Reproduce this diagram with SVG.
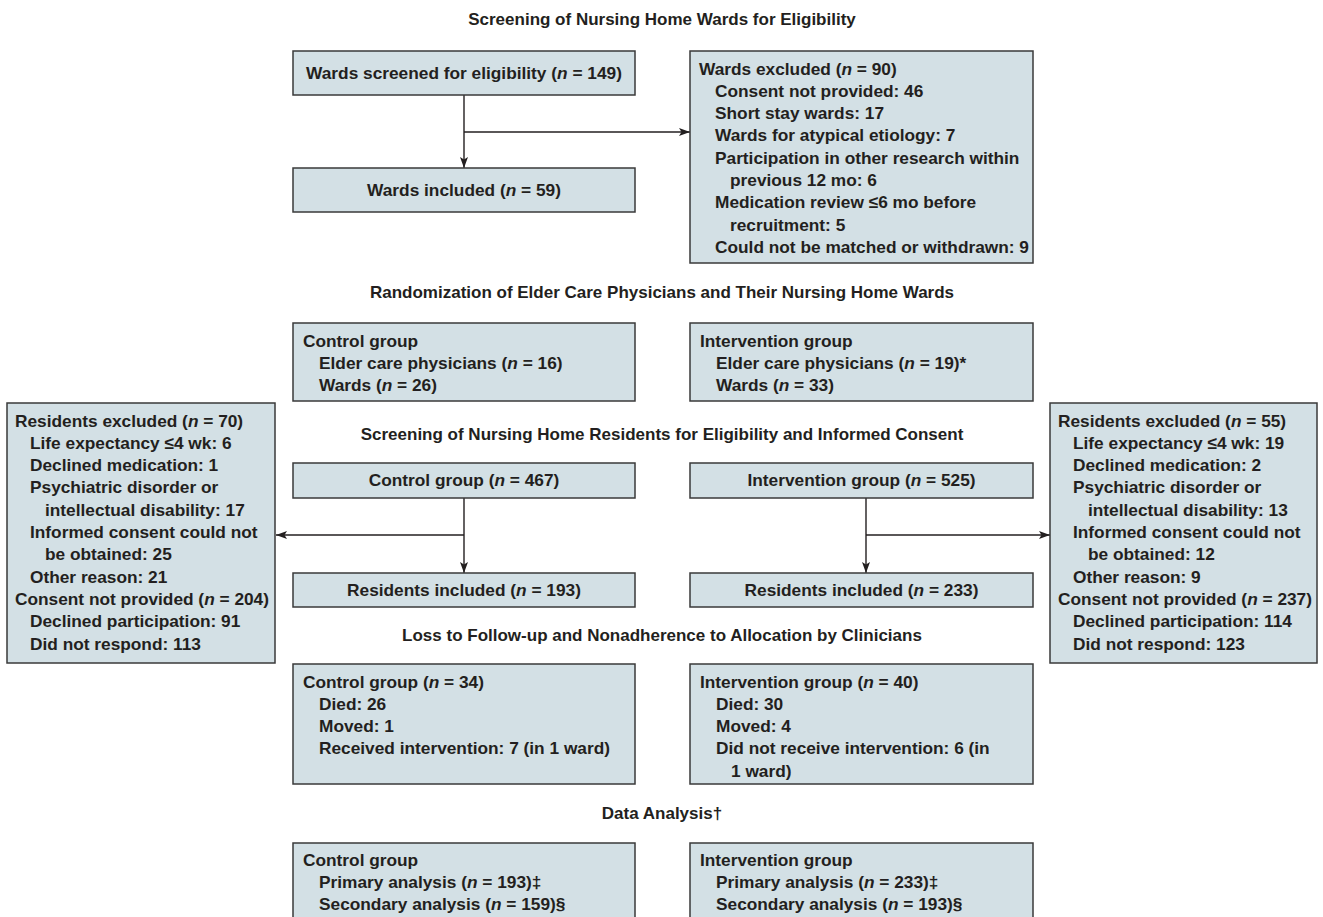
<svg xmlns="http://www.w3.org/2000/svg" width="1323" height="917" viewBox="0 0 1323 917">
<defs>
<style>
.box{fill:#d3e0e5;stroke:#3a3a3a;stroke-width:1.5}
.t{font-family:"Liberation Sans",Arial,sans-serif;font-size:17.3px;font-weight:bold;fill:#231f20}
.h{font-family:"Liberation Sans",Arial,sans-serif;font-size:17px;font-weight:bold;fill:#231f20;text-anchor:middle}
.m{text-anchor:middle}
.conn{stroke:#231f20;stroke-width:1.4;fill:none}
</style>
<marker id="ah" viewBox="0 0 11 8" refX="11" refY="4" markerWidth="11" markerHeight="8" markerUnits="userSpaceOnUse" orient="auto">
<path d="M0,0 L11,4 L0,8 L2.5,4 z" fill="#231f20"/>
</marker>
</defs>
<rect width="1323" height="917" fill="#ffffff"/>

<g id="headings" class="h">
<text x="662" y="25">Screening of Nursing Home Wards for Eligibility</text>
<text x="662" y="298">Randomization of Elder Care Physicians and Their Nursing Home Wards</text>
<text x="662" y="440">Screening of Nursing Home Residents for Eligibility and Informed Consent</text>
<text x="662" y="641">Loss to Follow-up and Nonadherence to Allocation by Clinicians</text>
<text x="662" y="819">Data Analysis†</text>
</g>

<g id="connectors">
<path class="conn" d="M464,95 V168" marker-end="url(#ah)"/>
<path class="conn" d="M464,132 H690" marker-end="url(#ah)"/>
<path class="conn" d="M464,498 V573" marker-end="url(#ah)"/>
<path class="conn" d="M464,535 H276" marker-end="url(#ah)"/>
<path class="conn" d="M866,498 V573" marker-end="url(#ah)"/>
<path class="conn" d="M866,535 H1050" marker-end="url(#ah)"/>
</g>

<g id="wards-screened">
<rect class="box" x="293" y="51" width="342" height="44"/>
<text class="t m" x="464" y="79">Wards screened for eligibility (<tspan font-style="italic">n</tspan> = 149)</text>
</g>

<g id="wards-included">
<rect class="box" x="293" y="168" width="342" height="44"/>
<text class="t m" x="464" y="196">Wards included (<tspan font-style="italic">n</tspan> = 59)</text>
</g>

<g id="wards-excluded" class="t">
<rect class="box" x="690" y="51" width="343" height="212"/>
<text x="699" y="74.5">Wards excluded (<tspan font-style="italic">n</tspan> = 90)</text>
<text x="715" y="96.8">Consent not provided: 46</text>
<text x="715" y="119.1">Short stay wards: 17</text>
<text x="715" y="141.4">Wards for atypical etiology: 7</text>
<text x="715" y="163.7">Participation in other research within</text>
<text x="730" y="186">previous 12 mo: 6</text>
<text x="715" y="208.3">Medication review ≤6 mo before</text>
<text x="730" y="230.6">recruitment: 5</text>
<text x="715" y="252.9">Could not be matched or withdrawn: 9</text>
</g>

<g id="rand-control" class="t">
<rect class="box" x="293" y="323" width="342" height="78"/>
<text x="303" y="347">Control group</text>
<text x="319" y="369">Elder care physicians (<tspan font-style="italic">n</tspan> = 16)</text>
<text x="319" y="391">Wards (<tspan font-style="italic">n</tspan> = 26)</text>
</g>

<g id="rand-intervention" class="t">
<rect class="box" x="690" y="323" width="343" height="78"/>
<text x="700" y="347">Intervention group</text>
<text x="716" y="369">Elder care physicians (<tspan font-style="italic">n</tspan> = 19)*</text>
<text x="716" y="391">Wards (<tspan font-style="italic">n</tspan> = 33)</text>
</g>

<g id="residents-excluded-control" class="t">
<rect class="box" x="7" y="403" width="268" height="260"/>
<text x="15" y="426.5">Residents excluded (<tspan font-style="italic">n</tspan> = 70)</text>
<text x="30" y="448.8">Life expectancy ≤4 wk: 6</text>
<text x="30" y="471.1">Declined medication: 1</text>
<text x="30" y="493.4">Psychiatric disorder or</text>
<text x="45" y="515.7">intellectual disability: 17</text>
<text x="30" y="538">Informed consent could not</text>
<text x="45" y="560.3">be obtained: 25</text>
<text x="30" y="582.6">Other reason: 21</text>
<text x="15" y="604.9">Consent not provided (<tspan font-style="italic">n</tspan> = 204)</text>
<text x="30" y="627.2">Declined participation: 91</text>
<text x="30" y="649.5">Did not respond: 113</text>
</g>

<g id="residents-excluded-intervention" class="t">
<rect class="box" x="1050" y="403" width="267" height="260"/>
<text x="1058" y="426.5">Residents excluded (<tspan font-style="italic">n</tspan> = 55)</text>
<text x="1073" y="448.8">Life expectancy ≤4 wk: 19</text>
<text x="1073" y="471.1">Declined medication: 2</text>
<text x="1073" y="493.4">Psychiatric disorder or</text>
<text x="1088" y="515.7">intellectual disability: 13</text>
<text x="1073" y="538">Informed consent could not</text>
<text x="1088" y="560.3">be obtained: 12</text>
<text x="1073" y="582.6">Other reason: 9</text>
<text x="1058" y="604.9">Consent not provided (<tspan font-style="italic">n</tspan> = 237)</text>
<text x="1073" y="627.2">Declined participation: 114</text>
<text x="1073" y="649.5">Did not respond: 123</text>
</g>

<g id="screen-control">
<rect class="box" x="293" y="463" width="342" height="35"/>
<text class="t m" x="464" y="486">Control group (<tspan font-style="italic">n</tspan> = 467)</text>
</g>

<g id="screen-intervention">
<rect class="box" x="690" y="463" width="343" height="35"/>
<text class="t m" x="861.5" y="486">Intervention group (<tspan font-style="italic">n</tspan> = 525)</text>
</g>

<g id="included-control">
<rect class="box" x="293" y="573" width="342" height="34"/>
<text class="t m" x="464" y="596">Residents included (<tspan font-style="italic">n</tspan> = 193)</text>
</g>

<g id="included-intervention">
<rect class="box" x="690" y="573" width="343" height="34"/>
<text class="t m" x="861.5" y="596">Residents included (<tspan font-style="italic">n</tspan> = 233)</text>
</g>

<g id="loss-control" class="t">
<rect class="box" x="293" y="664" width="342" height="120"/>
<text x="303" y="687.5">Control group (<tspan font-style="italic">n</tspan> = 34)</text>
<text x="319" y="709.8">Died: 26</text>
<text x="319" y="732.1">Moved: 1</text>
<text x="319" y="754.4">Received intervention: 7 (in 1 ward)</text>
</g>

<g id="loss-intervention" class="t">
<rect class="box" x="690" y="664" width="343" height="120"/>
<text x="700" y="687.5">Intervention group (<tspan font-style="italic">n</tspan> = 40)</text>
<text x="716" y="709.8">Died: 30</text>
<text x="716" y="732.1">Moved: 4</text>
<text x="716" y="754.4">Did not receive intervention: 6 (in</text>
<text x="731" y="776.7">1 ward)</text>
</g>

<g id="analysis-control" class="t">
<rect class="box" x="293" y="843" width="342" height="100"/>
<text x="303" y="865.5">Control group</text>
<text x="319" y="887.8">Primary analysis (<tspan font-style="italic">n</tspan> = 193)‡</text>
<text x="319" y="910.1">Secondary analysis (<tspan font-style="italic">n</tspan> = 159)§</text>
</g>

<g id="analysis-intervention" class="t">
<rect class="box" x="690" y="843" width="343" height="100"/>
<text x="700" y="865.5">Intervention group</text>
<text x="716" y="887.8">Primary analysis (<tspan font-style="italic">n</tspan> = 233)‡</text>
<text x="716" y="910.1">Secondary analysis (<tspan font-style="italic">n</tspan> = 193)§</text>
</g>
</svg>
